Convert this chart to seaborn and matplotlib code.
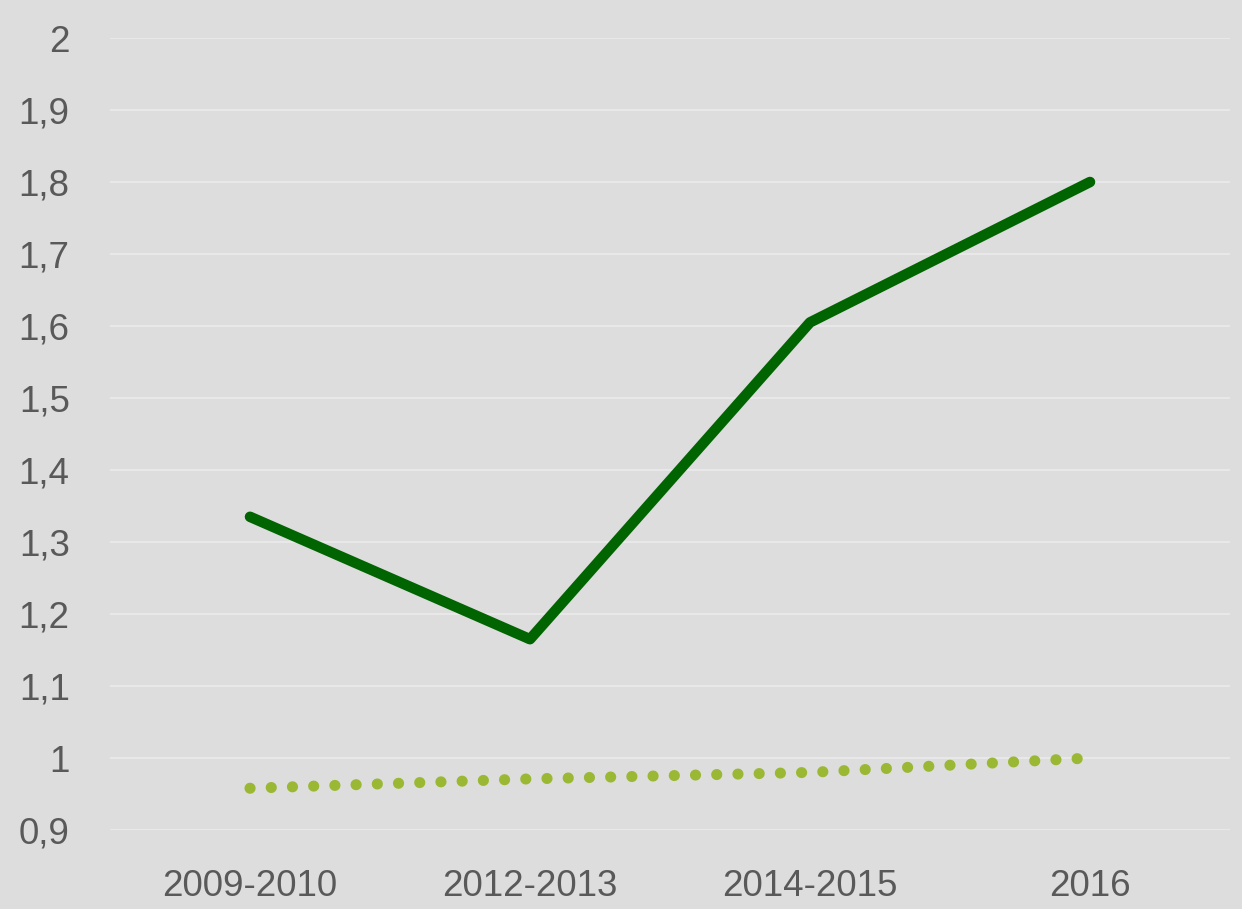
import pandas as pd
import matplotlib
matplotlib.use("Agg")
import matplotlib.pyplot as plt
import seaborn as sns
from matplotlib.ticker import FuncFormatter

# values
periods = ["2009-2010", "2012-2013", "2014-2015", "2016"]
main_values = [1.335, 1.165, 1.605, 1.80]
reference_values = [0.958, 0.971, 0.980, 1.00]

bg = "#dddddd"
text_color = "#595959"

sns.set_theme(style="darkgrid")
plt.rcParams["font.family"] = ["Liberation Sans", "DejaVu Sans"]

df = pd.DataFrame({"period": periods, "main": main_values, "reference": reference_values})

fig = plt.figure(figsize=(12.42, 9.09), dpi=100, facecolor=bg)
ax = fig.add_axes([110 / 1242, 1 - 830 / 909, 1120 / 1242, 792 / 909])
ax.set_facecolor(bg)

sns.lineplot(data=df, x="period", y="main", ax=ax, color="#006400",
             linewidth=7.6, solid_joinstyle="round", solid_capstyle="round",
             sort=False)
sns.lineplot(data=df, x="period", y="reference", ax=ax, color="#9ab833",
             linewidth=8, linestyle=(0, (0.01, 1.9)), dash_capstyle="round",
             sort=False)

ax.set_xlim(-0.5, 3.5)
ax.set_ylim(0.9, 2.0)
ax.set_yticks([0.9 + 0.1 * i for i in range(12)])
ax.yaxis.set_major_formatter(FuncFormatter(lambda v, _: f"{v:.1f}".rstrip("0").rstrip(".").replace(".", ",")))

ax.grid(axis="y", color="#e8e8e8", linewidth=1.5)
ax.grid(axis="x", visible=False)
for s in ax.spines.values():
    s.set_visible(False)

ax.tick_params(axis="both", length=0, labelsize=26.5, labelcolor=text_color)
ax.tick_params(axis="y", pad=29)
ax.tick_params(axis="x", pad=28)
ax.set_xlabel("")
ax.set_ylabel("")

fig.savefig("out.png", dpi=100, facecolor=bg)
